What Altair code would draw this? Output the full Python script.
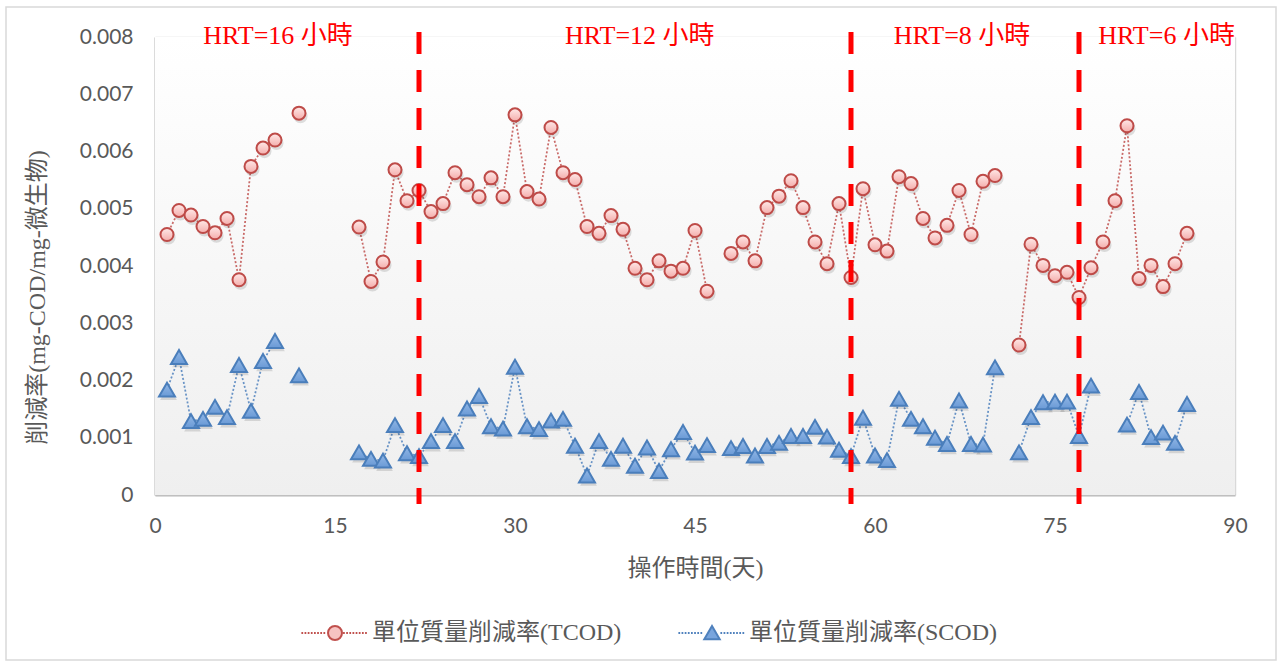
import altair as alt
import pandas as pd

# Operating day (x) and specific removal rates (mg-COD / mg-biomass); None = not sampled
days = list(range(1, 87))
tcod = [
    0.00455, 0.00497, 0.00489, 0.00469, 0.00458, 0.00483, 0.00376, 0.00574, 0.00606, 0.00620,
    None, 0.00667, None, None, None, None, 0.00468, 0.00373, 0.00407, 0.00568,
    0.00514, 0.00532, 0.00495, 0.00509, 0.00563, 0.00542, 0.00521, 0.00554, 0.00521, 0.00664,
    0.00530, 0.00517, 0.00642, 0.00563, 0.00551, 0.00469, 0.00457, 0.00488, 0.00464, 0.00396,
    0.00376, 0.00409, 0.00391, 0.00396, 0.00462, 0.00356, None, 0.00422, 0.00442, 0.00409,
    0.00502, 0.00522, 0.00549, 0.00502, 0.00442, 0.00404, 0.00509, 0.00380, 0.00535, 0.00437,
    0.00426, 0.00556, 0.00544, 0.00483, 0.00449, 0.00471, 0.00532, 0.00455, 0.00548, 0.00558,
    None, 0.00262, 0.00438, 0.00401, 0.00383, 0.00389, 0.00345, 0.00397, 0.00442, 0.00514,
    0.00645, 0.00378, 0.00401, 0.00364, 0.00404, 0.00457,
]
scod = [
    0.00184, 0.00241, 0.00129, 0.00133, 0.00154, 0.00136, 0.00227, 0.00147, 0.00234, 0.00269,
    None, 0.00209, None, None, None, None, 0.000745, 0.00063, 0.00060, 0.00122,
    0.00073, 0.00068, 0.00094, 0.00122, 0.00094, 0.00151, 0.00173, 0.00120, 0.00116, 0.00224,
    0.00120, 0.00115, 0.00130, 0.00133, 0.00086, 0.00034, 0.00094, 0.00063, 0.00086, 0.00051,
    0.00083, 0.00042, 0.00080, 0.00110, 0.00074, 0.00087, None, 0.00082, 0.000855, 0.00069,
    0.000855, 0.00091, 0.00103, 0.00103, 0.00119, 0.00102, 0.00079, 0.00068, 0.00135, 0.00069,
    0.00061, 0.00168, 0.00133, 0.00120, 0.00100, 0.00089, 0.00165, 0.00089, 0.00088, 0.00223,
    None, 0.000745, 0.00136, 0.00162, 0.00163, 0.00163, 0.00103, 0.00191, None, None,
    0.00123, 0.00180, 0.00101, 0.00109, 0.00091, 0.00159,
]
series_names = ["單位質量削減率(TCOD)", "單位質量削減率(SCOD)"]

# HRT phases
hrt_change_day = [22, 58, 77]
hrt_labels = ["HRT=16 小時", "HRT=12 小時", "HRT=8 小時", "HRT=6 小時"]
hrt_label_day = [10.25, 40.4, 67.25, 84.3]

x_ticks = [0, 15, 30, 45, 60, 75, 90]
y_ticks = [0, 0.001, 0.002, 0.003, 0.004, 0.005, 0.006, 0.007, 0.008]

W, H = 1080, 458
SERIF = "Liberation Serif, 'Noto Sans CJK TC', serif"
GRAY_TEXT = "#595959"


def build_frame(values, name):
    """Long table with a run id so dotted lines break at missing samples."""
    rows, seg = [], 0
    for d, v in zip(days, values):
        if v is None:
            seg += 1
            continue
        rows.append({"day": d, "rate": v, "series": name, "seg": seg})
    return pd.DataFrame(rows)


df_t = build_frame(tcod, series_names[0])
df_s = build_frame(scod, series_names[1])
df_all = pd.concat([df_t, df_s], ignore_index=True)

x_enc = alt.X(
    "day:Q",
    scale=alt.Scale(domain=[0, 90], nice=False, zero=False),
    axis=alt.Axis(
        values=x_ticks, title="操作時間(天)", grid=True, ticks=False, tickSize=0,
        labelPadding=20, labelFlush=False, titleX=540, titleY=73, titleAnchor="start",
        titleAlign="center", titleBaseline="middle",
    ),
)
y_enc = alt.Y(
    "rate:Q",
    scale=alt.Scale(domain=[0, 0.008], nice=False),
    axis=alt.Axis(
        values=y_ticks, title="削減率(mg-COD/mg-微生物)", grid=True, ticks=False, tickSize=0,
        labelPadding=22, labelFlush=False,
        labelExpr="datum.value == 0 ? '0' : format(datum.value, '.3f')",
        titleX=-118, titleY=260, titleAngle=270, titleAlign="center", titleBaseline="middle",
        titleAnchor="start",
    ),
)

one = pd.DataFrame({"k": [0]})

# plot-area background gradient
background = alt.Chart(one).mark_rect(
    fill={"gradient": "linear", "x1": 0, "y1": 0, "x2": 0, "y2": 1,
          "stops": [{"offset": 0, "color": "#ffffff"}, {"offset": 1, "color": "#efefef"}]},
).encode(x=alt.value(0), x2=alt.value(W), y=alt.value(0), y2=alt.value(H))

# outer chart border
border = alt.Chart(one).mark_rect(
    fill=None, stroke="#d9d9d9", strokeWidth=1.5,
).encode(x=alt.value(-149), x2=alt.value(1121), y=alt.value(-30), y2=alt.value(623))

line_t = alt.Chart(df_t).mark_line(
    color="#c0504d", strokeWidth=1.75, strokeDash=[2, 2], opacity=0.85,
).encode(x=x_enc, y=y_enc, detail="seg:N")
line_s = alt.Chart(df_s).mark_line(
    color="#4f81bd", strokeWidth=1.75, strokeDash=[2, 2], opacity=0.85,
).encode(x=x_enc, y=y_enc, detail="seg:N")

shadow_t = alt.Chart(df_t).mark_point(
    shape="circle", filled=True, size=200, color="#000000", opacity=0.12, xOffset=1.5, yOffset=3,
).encode(x=x_enc, y=y_enc)
shadow_s = alt.Chart(df_s).mark_point(
    shape="triangle-up", filled=True, size=280, color="#000000", opacity=0.12, xOffset=1.5, yOffset=3,
).encode(x=x_enc, y=y_enc)

pts_t = alt.Chart(df_t).mark_point(
    shape="circle", size=169, opacity=1, strokeWidth=2, stroke="#be4b48",
    fill={"gradient": "linear", "x1": 0, "y1": 0, "x2": 0, "y2": 1,
          "stops": [{"offset": 0, "color": "#ffe9e8"}, {"offset": 1, "color": "#f4adab"}]},
).encode(x=x_enc, y=y_enc)
pts_s = alt.Chart(df_s).mark_point(
    shape="triangle-up", size=256, opacity=1, strokeWidth=2, stroke="#4a7ebb",
    fill={"gradient": "linear", "x1": 0, "y1": 0, "x2": 0, "y2": 1,
          "stops": [{"offset": 0, "color": "#93b8e6"}, {"offset": 1, "color": "#6a9ad6"}]},
).encode(x=x_enc, y=y_enc)

# HRT change markers and phase labels
rules = alt.Chart(pd.DataFrame({"day": hrt_change_day})).mark_rule(
    color="#ff0000", strokeWidth=5, strokeDash=[22, 16],
).encode(x=x_enc, y=alt.value(-5), y2=alt.value(467))

phase_text = alt.Chart(pd.DataFrame({"day": hrt_label_day, "label": hrt_labels})).mark_text(
    font=SERIF, fontSize=26, color="#ff0000", align="center", baseline="alphabetic",
).encode(x=x_enc, y=alt.value(7), text="label:N")


# legend symbols: dotted line with the marker in the middle
def dotted(x0, x1, step=0.45, dot=0.25):
    parts, x = [], x0
    while x + dot <= x1 + 1e-9:
        parts.append(f"M{x:.3f},0L{x + dot:.3f},0")
        x += step
    return "".join(parts)


circle_path = "M1,0A1,1 0 1,1 -1,0A1,1 0 1,1 1,0Z" + dotted(-4.8, -1.15) + dotted(1.15, 4.8)
tri_path = "M0,-1L1.1,0.9L-1.1,0.9Z" + dotted(-4.8, -1.2) + dotted(1.2, 4.8)

legend_spec = alt.Legend(
    title=None, orient="none", legendX=168, legendY=584, direction="horizontal",
    labelFont=SERIF, labelFontSize=24, labelColor=GRAY_TEXT, labelLimit=0, symbolSize=196,
    symbolStrokeWidth=2, labelOffset=25, columnPadding=52, padding=0,
)
legend_layer = alt.Chart(df_all).transform_filter("false").mark_point(
    filled=True, opacity=1, strokeWidth=2,
).encode(
    shape=alt.Shape("series:N", scale=alt.Scale(domain=series_names, range=[circle_path, tri_path]),
                    legend=legend_spec),
    fill=alt.Fill("series:N", scale=alt.Scale(domain=series_names, range=["#f7c3c2", "#79a5dd"]),
                  legend=legend_spec),
    stroke=alt.Stroke("series:N", scale=alt.Scale(domain=series_names, range=["#c0504d", "#4f81bd"]),
                      legend=legend_spec),
)

chart = alt.layer(
    background, border, line_t, line_s, shadow_t, shadow_s, pts_t, pts_s, rules, phase_text, legend_layer,
).properties(
    width=W, height=H,
    autosize=alt.AutoSizeParams(type="none"),
    padding={"left": 155, "top": 37, "right": 44, "bottom": 171},
    background="#ffffff",
).configure_view(
    stroke=None,
).configure_axis(
    gridColor="#d9d9d9", gridWidth=1.5, domainColor="#bfbfbf", domainWidth=2,
    labelFont="Lato", labelFontSize=21, labelColor=GRAY_TEXT,
    titleFont=SERIF, titleFontSize=24, titleColor=GRAY_TEXT, titleFontWeight="normal",
)

chart.save("out.html", embed_options={"renderer": "svg", "actions": False})
